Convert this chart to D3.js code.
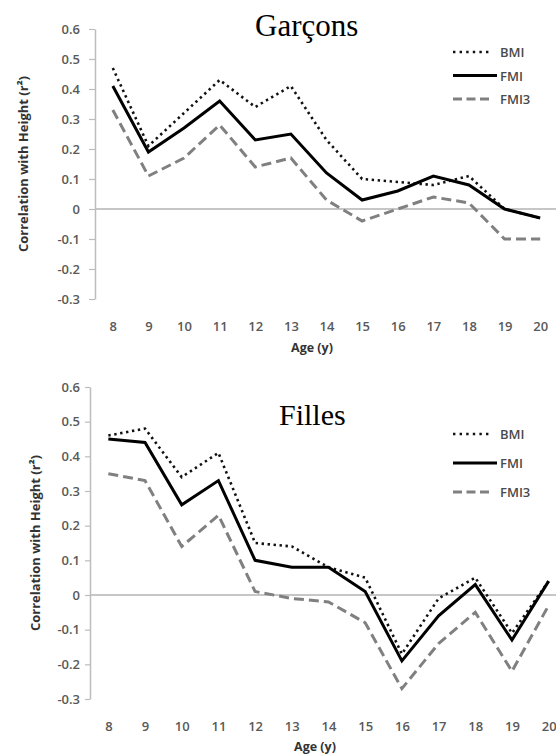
<!DOCTYPE html>
<html>
<head>
<meta charset="utf-8">
<script src="https://cdn.jsdelivr.net/npm/d3@7"></script>
<style>
  html, body { margin: 0; padding: 0; background: #fff; }
  svg { display: block; }
</style>
</head>
<body>
<svg id="chart" width="556" height="755"></svg>
<script>
// ---- data ----
const ages = [8, 9, 10, 11, 12, 13, 14, 15, 16, 17, 18, 19, 20];
const yTicks = [-0.3, -0.2, -0.1, 0, 0.1, 0.2, 0.3, 0.4, 0.5, 0.6];
const seriesNames = ["BMI", "FMI", "FMI3"];

const boysBMI  = [0.47, 0.21, 0.32, 0.43, 0.34, 0.41, 0.23, 0.10, 0.09, 0.08, 0.11, 0.00, -0.03];
const boysFMI  = [0.41, 0.19, 0.27, 0.36, 0.23, 0.25, 0.12, 0.03, 0.06, 0.11, 0.08, 0.00, -0.03];
const boysFMI3 = [0.33, 0.11, 0.17, 0.28, 0.14, 0.17, 0.03, -0.04, 0.00, 0.04, 0.02, -0.10, -0.10];

const girlsBMI  = [0.46, 0.48, 0.34, 0.41, 0.15, 0.14, 0.08, 0.05, -0.17, -0.01, 0.05, -0.11, 0.04];
const girlsFMI  = [0.45, 0.44, 0.26, 0.33, 0.10, 0.08, 0.08, 0.01, -0.19, -0.06, 0.03, -0.13, 0.04];
const girlsFMI3 = [0.35, 0.33, 0.14, 0.23, 0.01, -0.01, -0.02, -0.08, -0.27, -0.14, -0.05, -0.22, -0.03];

const yTitle = "Correlation with Height (r²)";
const xTitle = "Age (y)";

// ---- styles ----
const styles = {
  BMI:  { color: "#111", width: 2.6, dash: "2.4,3.6", cap: "butt" },
  FMI:  { color: "#000", width: 3,   dash: null,      cap: "butt" },
  FMI3: { color: "#808080", width: 3, dash: "10,5",   cap: "butt" }
};
const sans = "'Open Sans', 'Noto Sans', sans-serif";

const svg = d3.select("#chart");

function drawPanel(cfg) {
  const g = svg.append("g");
  const x = d3.scalePoint().domain(ages).range([cfg.left, cfg.right]).padding(0.5);
  const y = d3.scaleLinear().domain([-0.3, 0.6]).range([cfg.bottom, cfg.top]);

  // zero line
  g.append("line")
    .attr("x1", cfg.left).attr("x2", 556)
    .attr("y1", y(0)).attr("y2", y(0))
    .attr("stroke", "#c6c6c6").attr("stroke-width", 2);

  // y axis
  const ax = g.append("g")
    .attr("transform", `translate(${cfg.left},0)`)
    .call(d3.axisLeft(y).tickValues(yTicks)
      .tickSize(cfg.tickSize).tickSizeOuter(0).tickPadding(cfg.tickPad)
      .tickFormat(d => d === 0 ? "0" : d.toFixed(1)));
  ax.select(".domain").attr("stroke", "#bdbdbd").attr("stroke-width", 1.5);
  ax.selectAll(".tick line").attr("stroke", "#bdbdbd").attr("stroke-width", 1.2);
  ax.selectAll(".tick text")
    .attr("font-family", sans).attr("font-size", 13).attr("font-weight", 600).attr("fill", "#595959");

  // x axis labels (no ticks)
  const xa = g.append("g")
    .attr("transform", `translate(0,${cfg.xLabelY})`)
    .call(d3.axisBottom(x).tickSize(0).tickPadding(0));
  xa.select(".domain").remove();
  xa.selectAll(".tick text")
    .attr("font-family", sans).attr("font-size", 13).attr("font-weight", 600).attr("fill", "#595959");

  // axis titles
  g.append("text")
    .attr("x", cfg.xTitleX).attr("y", cfg.xTitleY)
    .attr("text-anchor", "middle")
    .attr("font-family", sans).attr("font-size", 12.5).attr("font-weight", "bold")
    .attr("fill", "#333").text(xTitle);

  g.append("text")
    .attr("transform", `translate(${cfg.yTitleX},${(cfg.top + cfg.bottom) / 2}) rotate(-90)`)
    .attr("text-anchor", "middle").attr("dominant-baseline", "central")
    .attr("font-family", sans).attr("font-size", 13).attr("font-weight", "bold")
    .attr("fill", "#333").text(yTitle);

  // lines
  const line = d3.line().x((d, i) => x(ages[i])).y(d => y(d));
  const order = ["FMI3", "BMI", "FMI"];
  order.forEach(name => {
    const st = styles[name];
    g.append("path")
      .datum(cfg.data[name])
      .attr("d", line)
      .attr("fill", "none")
      .attr("stroke", st.color)
      .attr("stroke-width", st.width)
      .attr("stroke-dasharray", st.dash)
      .attr("stroke-linejoin", "miter")
      .attr("stroke-linecap", st.cap);
  });

  // legend
  const lg = g.append("g");
  seriesNames.forEach((name, i) => {
    const st = styles[name];
    const yy = cfg.legendY + i * cfg.legendStep;
    lg.append("line")
      .attr("x1", 453).attr("x2", name === "FMI" ? 497 : 492)
      .attr("y1", yy).attr("y2", yy)
      .attr("stroke", st.color).attr("stroke-width", st.width)
      .attr("stroke-dasharray", name === "BMI" ? "2.4,4.2" : (name === "FMI3" ? "9,4.5" : null));
    lg.append("text")
      .attr("x", 500).attr("y", yy).attr("dominant-baseline", "central")
      .attr("font-family", sans).attr("font-size", 13).attr("font-weight", 600).attr("fill", "#4a4a4a")
      .text(name);
  });

  // panel title
  g.append("text")
    .attr("x", cfg.titleX).attr("y", cfg.titleY)
    .attr("font-family", "'Liberation Serif', 'Times New Roman', serif")
    .attr("font-size", cfg.titleSize).attr("fill", "#000")
    .text(cfg.title);
}

drawPanel({
  title: "Garçons", titleX: 255, titleY: 36, titleSize: 31,
  left: 95, right: 558, top: 29, bottom: 299,
  tickSize: 6, tickPad: 9,
  xLabelY: 322, xTitleX: 312, xTitleY: 352, yTitleX: 23,
  legendY: 52, legendStep: 23.5,
  data: { BMI: boysBMI, FMI: boysFMI, FMI3: boysFMI3 }
});

drawPanel({
  title: "Filles", titleX: 279, titleY: 425, titleSize: 30,
  left: 90, right: 567, top: 387, bottom: 699,
  tickSize: 5, tickPad: 5,
  xLabelY: 722, xTitleX: 315, xTitleY: 751, yTitleX: 35,
  legendY: 434, legendStep: 29,
  data: { BMI: girlsBMI, FMI: girlsFMI, FMI3: girlsFMI3 }
});
</script>
</body>
</html>
